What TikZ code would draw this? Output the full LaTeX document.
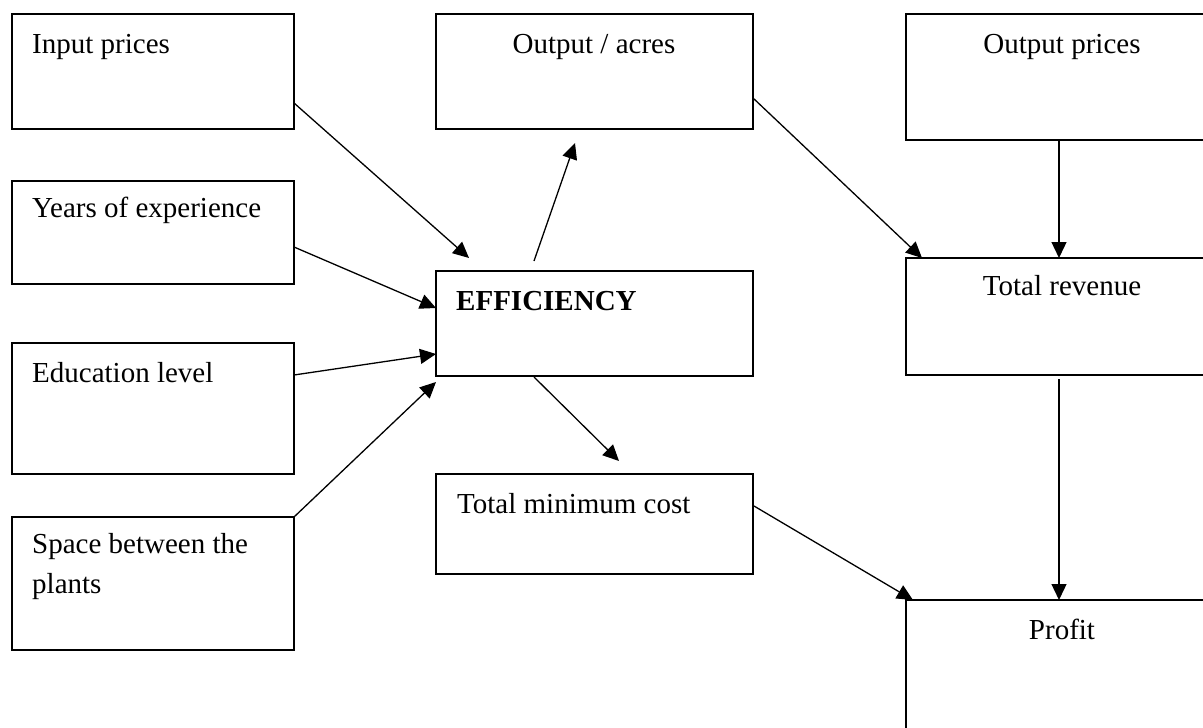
\documentclass[tikz,border=0pt]{standalone}
\usepackage{fontspec}
\setmainfont{Liberation Serif}
\usetikzlibrary{arrows.meta,calc}
\begin{document}
\begin{tikzpicture}[x=1pt,y=-1pt,
  box/.style={draw, line width=1.4pt, inner sep=0pt, outer sep=0pt, anchor=north west},
  txt/.style={inner sep=0pt, font=\fontsize{29}{40}\selectfont},
  arr/.style={line width=1.3pt, -{Triangle[length=16pt,width=15pt]}}]
\useasboundingbox (0,0) rectangle (1203,728);
\clip (0,0) rectangle (1203,728);
\fill[white] (0,0) rectangle (1203,728);
% boxes
\node[box, minimum width=282pt, minimum height=115pt] (inp) at (12,14) {};
\node[box, minimum width=282pt, minimum height=103pt] (yrs) at (12,181) {};
\node[box, minimum width=282pt, minimum height=131pt] (edu) at (12,343) {};
\node[box, minimum width=282pt, minimum height=133pt] (spc) at (12,517) {};
\node[box, minimum width=317pt, minimum height=115pt] (out) at (436,14) {};
\node[box, minimum width=317pt, minimum height=105pt] (eff) at (436,271) {};
\node[box, minimum width=317pt, minimum height=100pt] (cost) at (436,474) {};
\node[box, minimum width=312pt, minimum height=126pt] (op) at (906,14) {};
\node[box, minimum width=312pt, minimum height=117pt] (rev) at (906,258) {};
\node[box, minimum width=312pt, minimum height=160pt] (prof) at (906,600) {};
% texts
\node[txt, anchor=base west] (inpT) at (32,53) {Input prices};
\node[txt, anchor=base west] (yrsT) at (32,217) {Years of experience};
\node[txt, anchor=base west] (eduT) at (32,382) {Education level};
\node[txt, anchor=base west, align=left] (spcT) at (32,593) {Space between the\\plants};
\node[txt, anchor=base] (outT) at (594,53) {Output / acres};
\node[txt, anchor=base west, font=\fontsize{29}{40}\selectfont\bfseries] (effT) at (456,310) {EFFICIENCY};
\node[txt, anchor=base west] (costT) at (457,513) {Total minimum cost};
\node[txt, anchor=base] (opT) at (1062,53) {Output prices};
\node[txt, anchor=base] (revT) at (1062,295) {Total revenue};
\node[txt, anchor=base] (profT) at (1062,639) {Profit};
% connectors
\draw[arr] ($(inp.north east)+(0,89)$) -- ($(eff.north west)+(33,-13)$);
\draw[arr] ($(yrs.north east)+(0,66)$) -- ($(eff.north west)+(0,37)$);
\draw[arr] ($(edu.north east)+(0,32)$) -- ($(eff.north west)+(0,83)$);
\draw[arr] (spc.north east) -- ($(eff.south west)+(0,6)$);
\draw[arr] ($(eff.north west)+(98,-10)$) -- ($(out.south west)+(139,14)$);
\draw[arr] ($(out.north east)+(0,84)$) -- ($(rev.north west)+(16,0)$);
\draw[arr] ($(op.south west)+(153,0)$) -- ($(rev.north west)+(153,0)$);
\draw[arr] ($(eff.south west)+(98,1)$) -- ($(cost.north west)+(183,-13)$);
\draw[arr] ($(cost.north east)+(1,32)$) -- ($(prof.north west)+(7,0)$);
\draw[arr] ($(rev.south west)+(153,4)$) -- ($(prof.north west)+(153,0)$);
\end{tikzpicture}
\end{document}
